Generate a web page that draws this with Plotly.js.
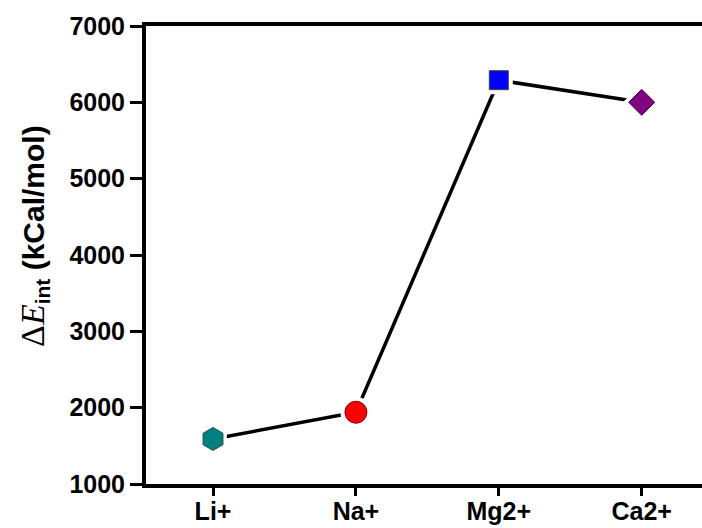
<!DOCTYPE html>
<html>
<head>
<meta charset="utf-8">
<script src="https://cdn.plot.ly/plotly-3.0.1.min.js"></script>
<style>html,body{margin:0;padding:0;background:#fff;}#chart{width:702px;height:528px;}</style>
</head>
<body>
<div id="chart"></div>
<script>
const categories = ['Li+', 'Na+', 'Mg2+', 'Ca2+'];
const energies = [1590, 1940, 6290, 6000];
const markerSymbols = ['hexagon', 'circle', 'square', 'diamond'];
const markerColors = ['#008080', '#FF0000', '#0000FF', '#800080'];
const markerOutlines = ['#2f4f4f', '#8b0000', '#444444', '#4b004b'];
const markerSizes = [23, 22, 19, 20];
const yTicks = [1000, 2000, 3000, 4000, 5000, 6000, 7000];
const yTitle = '<span style="font-family:\'Liberation Serif\',\'Times New Roman\',serif;font-weight:normal;font-size:34px">Δ<i>E</i></span><sub>int</sub> (kCal/mol)';

const idx = categories.map((c, i) => i);

const traces = [
  {
    x: idx, y: energies, type: 'scatter', mode: 'lines',
    line: {color: '#000', width: 3.5}, hoverinfo: 'skip', showlegend: false
  },
  {
    x: idx, y: energies, type: 'scatter', mode: 'markers',
    marker: {symbol: markerSymbols, color: '#fff', opacity: 1, size: markerSizes.map(s => s + 9), line: {width: 0}},
    hoverinfo: 'skip', showlegend: false
  },
  {
    x: idx, y: energies, type: 'scatter', mode: 'markers',
    marker: {symbol: markerSymbols, color: markerColors, opacity: 1, size: markerSizes,
             line: {color: markerOutlines, width: 1}},
    showlegend: false
  }
];

const layout = {
  width: 702, height: 528,
  margin: {l: 146, r: 0, t: 26, b: 44},
  paper_bgcolor: '#fff', plot_bgcolor: '#fff',
  font: {family: 'Liberation Sans, Arial, sans-serif', color: '#000'},
  showlegend: false,
  xaxis: {
    range: [-0.469, 3.422],
    tickmode: 'array', tickvals: idx, ticktext: categories,
    showgrid: false, zeroline: false,
    showline: true, linecolor: '#000', linewidth: 4, mirror: true,
    ticks: 'outside', ticklen: 8, tickwidth: 3, tickcolor: '#000',
    ticklabelstandoff: -6,
    tickfont: {family: 'Liberation Sans, Arial, sans-serif', size: 25, weight: 'bold', color: '#000'}
  },
  yaxis: {
    range: [1000, 7000],
    tickmode: 'array', tickvals: yTicks, ticktext: yTicks.map(String),
    showgrid: false, zeroline: false,
    showline: true, linecolor: '#000', linewidth: 4, mirror: false,
    ticks: 'outside', ticklen: 12, tickwidth: 3, tickcolor: '#000',
    tickfont: {family: 'Liberation Sans, Arial, sans-serif', size: 25, weight: 'bold', color: '#000'}
  },
  annotations: [{
    text: yTitle, textangle: -90, showarrow: false,
    xref: 'paper', yref: 'paper', x: 0, y: 0.5415,
    xanchor: 'center', yanchor: 'middle', xshift: -112,
    font: {family: 'Liberation Sans, Arial, sans-serif', size: 30, weight: 'bold', color: '#000'}
  }]
};

Plotly.newPlot('chart', traces, layout, {displayModeBar: false, staticPlot: true});
</script>
</body>
</html>
